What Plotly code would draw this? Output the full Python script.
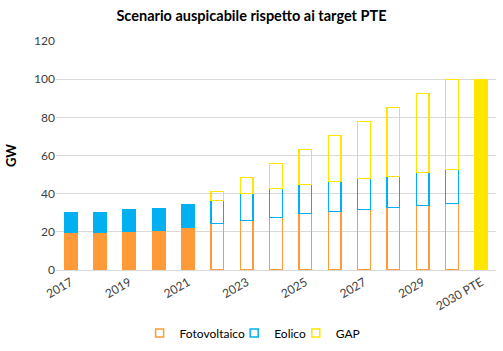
import plotly.graph_objects as go

categories = ["2017", "2018", "2019", "2020", "2021", "2022", "2023", "2024",
              "2025", "2026", "2027", "2028", "2029", "2030", "2030 PTE"]
fotovoltaico = [19.7, 19.9, 20.4, 21.0, 22.5, 24.4, 26.0, 27.6, 29.7, 30.7, 31.8, 32.8, 33.9, 34.9, None]
eolico_tot = [29.8, 30.3, 31.4, 31.9, 34.0, 36.6, 40.1, 42.6, 44.9, 46.5, 48.0, 49.1, 51.0, 52.8, None]
totale = [None, None, None, None, None, 41.2, 48.6, 55.9, 63.2, 70.6, 77.9, 85.2, 92.6, 100.0, 100.0]
tick_labels = ["2017", "2019", "2021", "2023", "2025", "2027", "2029", "2030 PTE"]

eolico = [None if e is None else round(e - f, 2) for e, f in zip(eolico_tot, fotovoltaico)]
gap = [None if t is None else (t if e is None else round(t - e, 2))
       for t, e in zip(totale, eolico_tot)]

ORANGE = "#FF9A38"
BLUE = "#00B0F0"
YELLOW = "#FFE600"
CLEAR = "rgba(0,0,0,0)"

n_hist = 5
fills_pv = [ORANGE] * n_hist + [CLEAR] * (len(categories) - n_hist)
fills_eo = [BLUE] * n_hist + [CLEAR] * (len(categories) - n_hist)
fills_gap = [YELLOW] * n_hist + [CLEAR] * (len(categories) - n_hist - 1) + [YELLOW]

fig = go.Figure()
for name, vals, fills, col in [("Fotovoltaico", fotovoltaico, fills_pv, ORANGE),
                               ("Eolico", eolico, fills_eo, BLUE),
                               ("GAP", gap, fills_gap, YELLOW)]:
    fig.add_trace(go.Bar(x=categories, y=vals, name=name, showlegend=False,
                         marker=dict(color=fills, line=dict(color=col, width=1.3))))
# legend entries (small outlined squares), one legend each for tight spacing
legend_ids = ["legend", "legend2", "legend3"]
for (name, col), lid in zip([("Fotovoltaico", ORANGE), ("Eolico", BLUE), ("GAP", YELLOW)], legend_ids):
    fig.add_trace(go.Scatter(x=[None], y=[None], name=name, mode="markers",
                             showlegend=True, hoverinfo="skip", legend=lid,
                             marker=dict(symbol="square-open", size=8,
                                         color=col, line=dict(color=col, width=1.5))))

FONT = "Lato"
leg_common = dict(orientation="h", xanchor="left", y=-0.275, yanchor="middle",
                  font=dict(size=12, color="#000000"), bgcolor="rgba(0,0,0,0)")
fig.update_layout(
    barmode="stack",
    bargap=0.56,
    width=503, height=351,
    margin=dict(l=56, r=7, t=41, b=81, autoexpand=False),
    paper_bgcolor="white", plot_bgcolor="white",
    font=dict(family=FONT, color="#595959", size=12),
    title=dict(text="<b>Scenario auspicabile rispetto ai target PTE</b>",
               x=0.5, xanchor="center", y=0.955, yanchor="middle",
               font=dict(family=FONT, size=14.5, color="#000000")),
    xaxis=dict(type="category", categoryorder="array", categoryarray=categories,
               tickmode="array", tickvals=tick_labels, ticktext=tick_labels,
               tickangle=-30, showgrid=False, showline=True, linecolor="#D9D9D9",
               linewidth=1, ticks="", tickfont=dict(size=12, color="#404040")),
    yaxis=dict(range=[0, 120], dtick=20, showgrid=True, gridcolor="#D9D9D9",
               gridwidth=1, zeroline=False, showline=False, ticks="",
               tickfont=dict(size=12, color="#404040"),
               title=dict(text="<b>GW</b>", standoff=14,
                          font=dict(size=13, color="#000000"))),
    legend=dict(x=0.19, **leg_common),
    legend2=dict(x=0.405, **leg_common),
    legend3=dict(x=0.545, **leg_common),
)

fig.write_html("out.html")
